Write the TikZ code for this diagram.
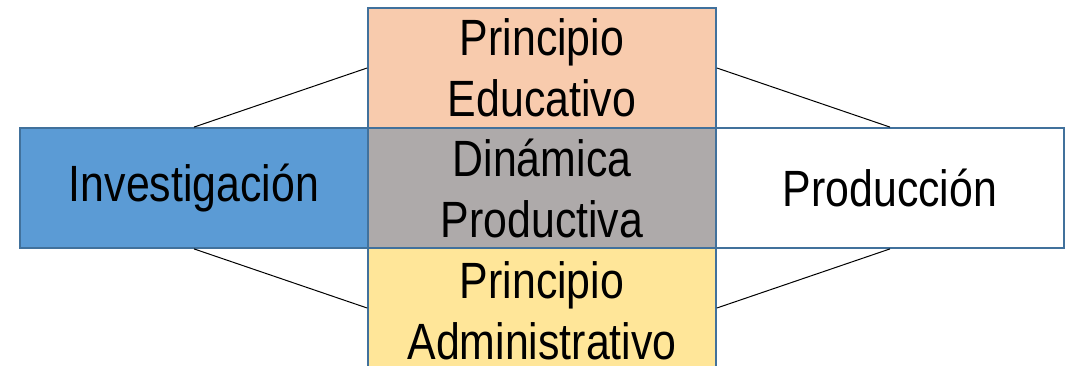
\documentclass[tikz,border=0pt]{standalone}
\usepackage{fontspec}
\setmainfont{Liberation Sans}[FakeStretch=0.84]
\definecolor{bblue}{HTML}{5B9BD5}
\definecolor{peach}{HTML}{F8CBAD}
\definecolor{ggray}{HTML}{AEAAAA}
\definecolor{yell}{HTML}{FFE699}
\definecolor{edge}{HTML}{41719C}
\begin{document}
\begin{tikzpicture}[x=1pt,y=-1pt,
  cell/.style={draw=edge,line width=1.8pt,rectangle,minimum width=348pt,minimum height=120pt,
    inner sep=0pt,align=center,font=\fontsize{51}{61}\selectfont,text=black},
  link/.style={draw=black,line width=1pt}]
\useasboundingbox (0,0) rectangle (1071,366);
\clip (0,0) rectangle (1071,366);
\node[cell,fill=peach] (edu) at (542,68) {Principio\\Educativo};
\node[cell,fill=bblue] (inv) at (194,188) {Investigación};
\node[cell,fill=ggray] (din) at (542,188) {Dinámica\\Productiva};
\node[cell,fill=white] (prod) at (890,188) {Producción};
\node[cell,fill=yell] (adm) at (542,308) {};
\node[align=center,font=\fontsize{51}{61}\selectfont] (admt) at (542,311) {Principio\\Administrativo};
\draw[link] (inv.north) -- (edu.west);
\draw[link] (edu.east) -- (prod.north);
\draw[link] (inv.south) -- (adm.west);
\draw[link] (adm.east) -- (prod.south);
\end{tikzpicture}
\end{document}
